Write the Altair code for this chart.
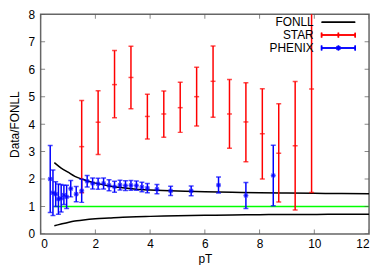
import altair as alt
import pandas as pd

# ---- data ----
star_pt = [1.5, 2.1, 2.7, 3.3, 3.9, 4.5, 5.1, 5.7, 6.3, 6.9, 7.5, 8.1, 8.7, 9.3, 9.9]
star_val = [3.18, 4.07, 5.44, 5.70, 4.28, 4.37, 4.60, 5.00, 5.56, 4.37, 4.08, 3.65, 2.94, 3.21, 5.28]
star_lo = [1.50, 2.89, 4.23, 4.56, 3.46, 3.52, 3.70, 3.93, 4.25, 3.12, 2.63, 2.00, 1.16, 0.87, 1.51]
star_hi = [4.86, 5.22, 6.68, 6.84, 5.09, 5.21, 5.53, 6.07, 6.85, 5.63, 5.51, 5.29, 4.74, 5.55, 9.05]

phx_pt = [0.35, 0.45, 0.55, 0.65, 0.75, 0.85, 0.95, 1.1, 1.3, 1.5, 1.7, 1.9, 2.1, 2.3,
          2.5, 2.7, 2.9, 3.1, 3.3, 3.5, 3.7, 3.9, 4.25, 4.75, 5.5, 6.5, 7.5, 8.5]
phx_val = [2.00, 1.50, 1.45, 1.27, 1.30, 1.42, 1.35, 1.65, 1.45, 1.57, 1.92, 1.84, 1.83, 1.84,
           1.77, 1.72, 1.78, 1.76, 1.77, 1.76, 1.71, 1.67, 1.63, 1.57, 1.57, 1.78, 1.40, 2.13]
phx_err = [1.22, 0.83, 0.45, 0.55, 0.50, 0.35, 0.42, 0.30, 0.28, 0.42, 0.21, 0.20, 0.20, 0.20,
           0.20, 0.20, 0.18, 0.18, 0.18, 0.17, 0.17, 0.17, 0.17, 0.17, 0.18, 0.29, 0.47, 1.10]

fonll_pt = [0.5, 0.75, 1.0, 1.25, 1.5, 2.0, 2.5, 3.0, 3.5, 4.0, 5.0, 6.0, 7.0, 8.0, 9.0, 10.0, 11.0, 12.0]
fonll_hi = [2.60, 2.40, 2.25, 2.10, 2.00, 1.85, 1.75, 1.68, 1.63, 1.60, 1.56, 1.54, 1.52, 1.50, 1.49, 1.48, 1.47, 1.46]
fonll_lo = [0.30, 0.36, 0.42, 0.47, 0.50, 0.55, 0.58, 0.61, 0.63, 0.64, 0.66, 0.68, 0.69, 0.70, 0.71, 0.71, 0.72, 0.72]

ref_pt = [0.5, 12.0]
ref_val = [1.0, 1.0]

x_ticks = [0, 2, 4, 6, 8, 10, 12]
y_ticks = [0, 1, 2, 3, 4, 5, 6, 7, 8]

RED = "#ff0000"
BLUE = "#0000ff"
GREEN = "#00ff00"
FONT = "Liberation Sans"

xs = alt.Scale(domain=[0, 12], nice=False)
ys = alt.Scale(domain=[0, 8], nice=False)

star = pd.DataFrame({"pt": star_pt, "v": star_val, "lo": star_lo, "hi": star_hi})
phx = pd.DataFrame({"pt": phx_pt, "v": phx_val, "err": phx_err})
phx["lo"] = phx["v"] - phx["err"]
phx["hi"] = phx["v"] + phx["err"]

fon = pd.DataFrame({"pt": fonll_pt * 2, "v": fonll_hi + fonll_lo,
                    "c": ["hi"] * len(fonll_pt) + ["lo"] * len(fonll_pt)})
ref = pd.DataFrame({"pt": ref_pt, "v": ref_val})

X_AX = alt.Axis(values=x_ticks, title="pT", ticks=False, domain=False, grid=False,
                labelOverlap=False,
                labelFont=FONT, labelFontSize=12, labelColor="black", labelPadding=5,
                titleFont=FONT, titleFontSize=12, titleFontWeight="normal",
                titleColor="black", titlePadding=4)
Y_AX = alt.Axis(values=y_ticks, title="Data/FONLL", ticks=False, domain=False, grid=False,
                labelOverlap=False,
                labelFont=FONT, labelFontSize=12, labelColor="black", labelPadding=6,
                titleFont=FONT, titleFontSize=12, titleFontWeight="normal",
                titleColor="black", titlePadding=7)


def XE(f):
    return alt.X(f, scale=xs, axis=X_AX)


def YE(f):
    return alt.Y(f, scale=ys, axis=Y_AX)


green = alt.Chart(ref).mark_line(color=GREEN, strokeWidth=1.3).encode(x=XE("pt:Q"), y=YE("v:Q"))
fonll = alt.Chart(fon).mark_line(color="black", strokeWidth=1.5, interpolate="monotone").encode(
    x=XE("pt:Q"), y=YE("v:Q"), detail="c:N")


def errbars(df, color):
    b = alt.Chart(df)
    bar = b.mark_rule(color=color, strokeWidth=1.5, clip=True).encode(
        x=XE("pt:Q"), y=YE("lo:Q"), y2="hi:Q")
    cap_lo = b.mark_tick(color=color, orient="horizontal", size=5, thickness=1.5, clip=True).encode(
        x=XE("pt:Q"), y=YE("lo:Q"))
    cap_hi = b.mark_tick(color=color, orient="horizontal", size=5, thickness=1.5, clip=True).encode(
        x=XE("pt:Q"), y=YE("hi:Q"))
    mid = b.mark_tick(color=color, orient="horizontal", size=5, thickness=1.5).encode(
        x=XE("pt:Q"), y=YE("v:Q"))
    return [bar, cap_lo, cap_hi, mid]


star_layers = errbars(star, RED)
phx_layers = errbars(phx, BLUE)
phx_x = alt.Chart(phx).mark_point(shape="M-1,-1L1,1M-1,1L1,-1", size=14, color=BLUE,
                                  filled=False, strokeWidth=1.3).encode(
    x=XE("pt:Q"), y=YE("v:Q"))

# inward ticks on all four sides
xt = pd.DataFrame({"t": x_ticks})
yt = pd.DataFrame({"t": y_ticks})
tick_col = "#555555"
tb = alt.Chart(xt).mark_tick(orient="vertical", size=9, thickness=1, color=tick_col, clip=True).encode(
    x=XE("t:Q"), y=alt.value(222))
tt = alt.Chart(xt).mark_tick(orient="vertical", size=9, thickness=1, color=tick_col, clip=True).encode(
    x=XE("t:Q"), y=alt.value(0))
tl = alt.Chart(yt).mark_tick(orient="horizontal", size=9, thickness=1, color=tick_col, clip=True).encode(
    y=YE("t:Q"), x=alt.value(0))
tr = alt.Chart(yt).mark_tick(orient="horizontal", size=9, thickness=1, color=tick_col, clip=True).encode(
    y=YE("t:Q"), x=alt.value(332))

# legend
leg_names = ["FONLL", "STAR", "PHENIX"]
leg_y = [8, 21, 34]
leg_text = alt.Chart(pd.DataFrame({"n": leg_names, "yy": leg_y})).mark_text(
    align="right", baseline="middle", font=FONT, fontSize=12, color="black").encode(
    x=alt.value(276), y=alt.Y("yy:Q", scale=None), text="n:N")

lx1, lx2 = 284, 318
leg = []
for yy, col in zip(leg_y, ["black", RED, BLUE]):
    leg.append(alt.Chart(ref).mark_rule(color=col, strokeWidth=1.5).encode(
        x=alt.value(lx1), x2=alt.value(lx2), y=alt.value(yy)))
for yy, col in zip(leg_y[1:], [RED, BLUE]):
    for xx in (lx1, lx2, (lx1 + lx2) / 2):
        leg.append(alt.Chart(ref).mark_rule(color=col, strokeWidth=1.5).encode(
            x=alt.value(xx), y=alt.value(yy - 2.5), y2=alt.value(yy + 2.5)))
leg.append(alt.Chart(ref).mark_point(shape="M-1,-1L1,1M-1,1L1,-1", size=14, color=BLUE,
                                     filled=False, strokeWidth=1.3).encode(
    x=alt.value((lx1 + lx2) / 2), y=alt.value(leg_y[2])))

chart = alt.layer(
    green, fonll, *star_layers, *phx_layers, phx_x, tb, tt, tl, tr, leg_text, *leg
).properties(
    width=332, height=222,
    autosize=alt.AutoSizeParams(type="none"),
    padding={"left": 33, "top": 5, "right": 5, "bottom": 30},
    background="white",
).configure_view(stroke="#666666", strokeWidth=1.5)

chart.save("out.html", embed_options={"renderer": "svg", "actions": False})
